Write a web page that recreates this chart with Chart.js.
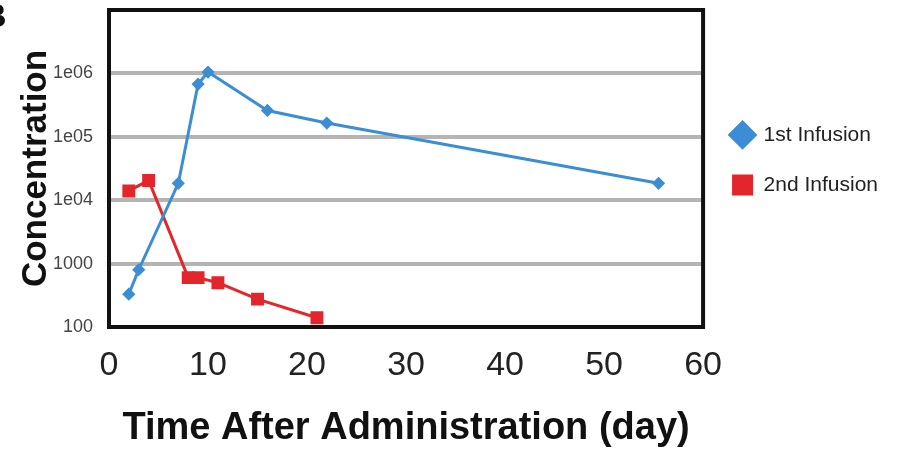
<!DOCTYPE html>
<html>
<head>
<meta charset="utf-8">
<script src="https://cdn.jsdelivr.net/npm/chart.js@4.4.0/dist/chart.umd.min.js"></script>
<style>
  html, body { margin: 0; padding: 0; background: #fff; }
  #wrap { position: relative; width: 897px; height: 452px; overflow: hidden; }
  #panel { position: absolute; left: -18px; top: -4px; font: bold 34px "Liberation Sans", Arial, sans-serif; color: #111; }
</style>
</head>
<body>
<div id="wrap">
  <canvas id="pkChart" width="897" height="452"></canvas>
  <div id="panel">B</div>
</div>
<script>
// data
const days1 = [2, 3, 7, 9, 10, 16, 22, 55.5];
const conc1 = [330, 800, 18500, 680000, 1050000, 260000, 165000, 18500];
const days2 = [2, 4, 8, 9, 11, 15, 21];
const conc2 = [14000, 20500, 600, 600, 500, 275, 140];
const yTicks = [100, 1000, 1e4, 1e5, 1e6, 1e7];
const yTickLabels = ["100", "1000", "1e04", "1e05", "1e06", ""];
const seriesNames = ["1st Infusion", "2nd Infusion"];

const FONT = '"Liberation Sans", Arial, Helvetica, sans-serif';

// black box around the plot
const frame = {
    id: "frame",
    beforeDatasetsDraw(chart) {
        const a = chart.chartArea, c = chart.ctx;
        c.save();
        c.strokeStyle = "#111";
        c.lineWidth = 4;
        c.strokeRect(a.left, a.top, a.right - a.left, a.bottom - a.top);
        c.restore();
    }
};

new Chart(document.getElementById("pkChart"), {
    type: "line",
    data: {
        datasets: [{
            label: seriesNames[0],
            data: days1.map((d, i) => ({ x: d, y: conc1[i] })),
            borderColor: "#3b8ed4",
            backgroundColor: "#3b8ed4",
            borderWidth: 3,
            pointStyle: "rectRot",
            pointRadius: 4.5,
            tension: 0
        }, {
            label: seriesNames[1],
            data: days2.map((d, i) => ({ x: d, y: conc2[i] })),
            borderColor: "#e3262b",
            backgroundColor: "#e3262b",
            borderWidth: 3,
            pointStyle: "rect",
            pointRadius: 7,
            tension: 0
        }]
    },
    options: {
        responsive: false,
        animation: false,
        layout: { padding: { top: 7, left: 0, right: 9, bottom: 0 } },
        plugins: {
            tooltip: { enabled: false },
            legend: {
                position: "right",
                align: "start",
                fullSize: false,
                title: { display: true, text: "", padding: { top: 71, bottom: 0 } },
                labels: {
                    usePointStyle: true,
                    boxHeight: 18,
                    padding: 29,
                    color: "#222",
                    font: { family: FONT, size: 21 }
                }
            }
        },
        scales: {
            x: {
                type: "linear",
                min: 0, max: 60,
                ticks: { stepSize: 10, padding: 18, color: "#222", font: { family: FONT, size: 34 } },
                grid: { display: false, drawTicks: false },
                border: { display: false },
                title: {
                    display: true,
                    text: "Time After Administration (day)",
                    color: "#111",
                    font: { family: FONT, size: 38, weight: "bold" },
                    padding: { top: 0, bottom: 1 }
                },
                afterFit(s) { s.height = 125; }
            },
            y: {
                type: "logarithmic",
                min: 100, max: 1e7,
                afterBuildTicks(s) { s.ticks = yTicks.map(v => ({ value: v })); },
                ticks: {
                    padding: 16,
                    color: "#444",
                    font: { family: FONT, size: 18 },
                    callback: (v) => yTickLabels[yTicks.indexOf(v)] ?? ""
                },
                grid: { color: "#b4b4b4", lineWidth: 4, drawTicks: false },
                border: { display: false },
                title: {
                    display: true,
                    text: "Concentration",
                    color: "#111",
                    font: { family: FONT, size: 35, weight: "bold" },
                    padding: { top: 15, bottom: 0 }
                },
                afterFit(s) { s.width = 109; s.paddingTop = 0; s.paddingBottom = 0; }
            }
        }
    },
    plugins: [frame]
});
</script>
</body>
</html>
